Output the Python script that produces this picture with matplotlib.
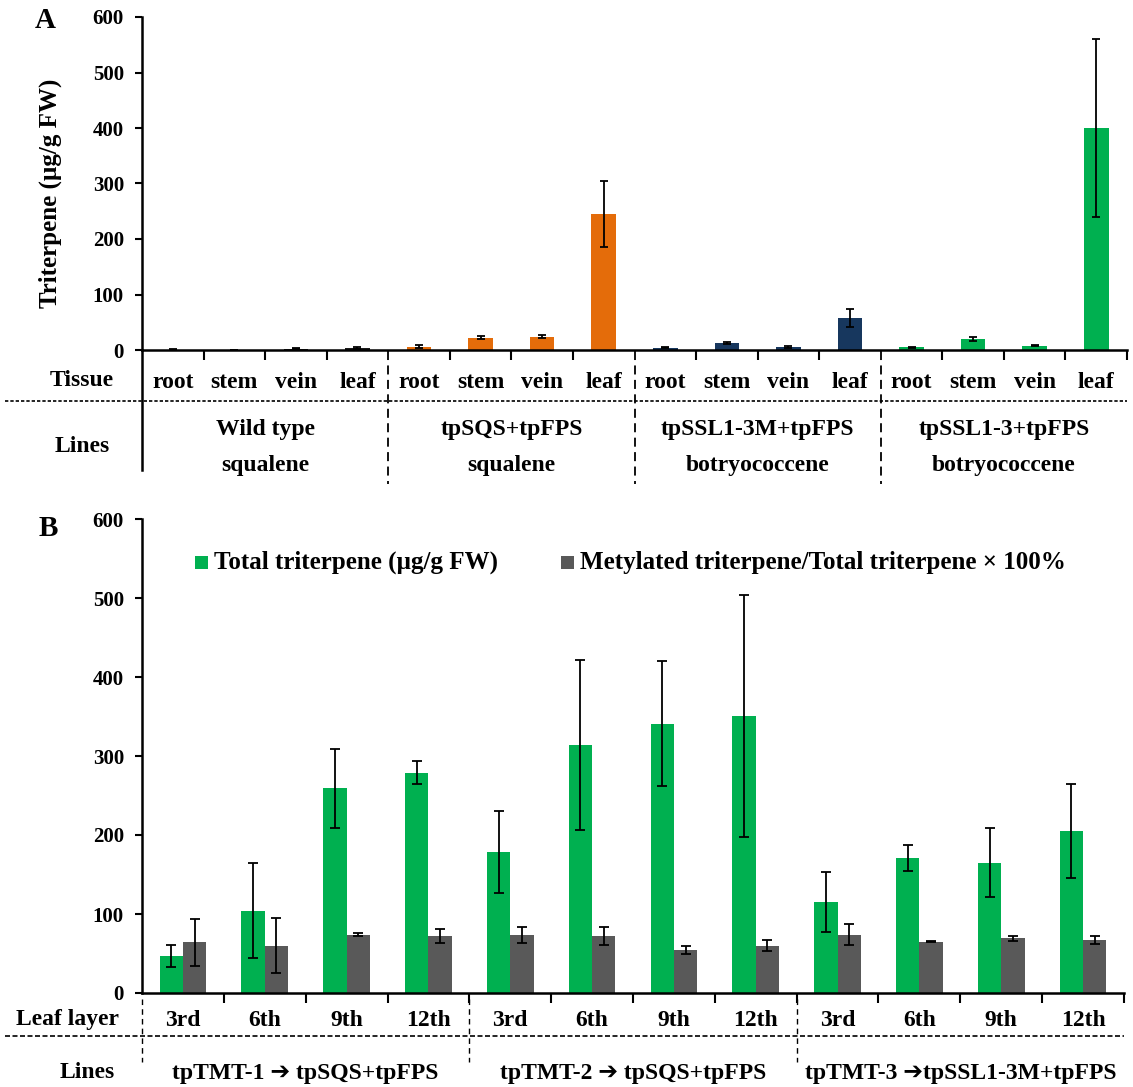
import numpy as np
import matplotlib
matplotlib.use('Agg')
import matplotlib.pyplot as plt
import matplotlib.transforms as mtransforms
from matplotlib.lines import Line2D
from matplotlib.patches import Rectangle

plt.rcParams['font.family'] = ['Liberation Serif', 'DejaVu Sans']
plt.rcParams['font.weight'] = 'bold'
plt.rcParams['axes.labelweight'] = 'bold'

# ---------------- Panel A data ----------------
tissues = ['root', 'stem', 'vein', 'leaf']
lines_a_top = ['Wild type', 'tpSQS+tpFPS', 'tpSSL1-3M+tpFPS', 'tpSSL1-3+tpFPS']
lines_a_bottom = ['squalene', 'squalene', 'botryococcene', 'botryococcene']
wt_vals = [0.8, 0.5, 2.0, 4.0]
wt_err = [0.5, 0.3, 1.0, 1.5]
sqs_vals = [6, 22, 24, 245]
sqs_err = [3, 3, 3, 60]
ssl3m_vals = [4, 12, 6, 58]
ssl3m_err = [1, 2, 2, 16]
ssl3_vals = [5, 20, 8, 400]
ssl3_err = [1, 3, 1.5, 160]
colors_a = ['#1a1a1a', '#E46C0A', '#17375E', '#00B050']

# ---------------- Panel B data ----------------
layers = ['3rd', '6th', '9th', '12th']
lines_b = ['tpTMT-1 \u2794 tpSQS+tpFPS', 'tpTMT-2 \u2794 tpSQS+tpFPS', 'tpTMT-3 \u2794tpSSL1-3M+tpFPS']
total_vals = [47, 104, 259, 279, 178, 314, 341, 351, 115, 171, 165, 205]
total_err = [14, 60, 50, 15, 52, 108, 79, 153, 38, 16, 44, 60]
metyl_vals = [64, 60, 74, 72, 73, 72, 55, 60, 74, 65, 69, 67]
metyl_err = [30, 35, 2, 9, 10, 11, 5, 7, 13, 1, 3, 5]
legend_labels = ['Total triterpene (\u00b5g/g FW)', 'Metylated triterpene/Total triterpene \u00d7 100%']
green = '#00B050'
gray = '#595959'

W, H = 1133, 1087
fig = plt.figure(figsize=(W / 100, H / 100), dpi=100)


def fx(px):
    return px / W


def fy(py):
    return 1 - py / H


TS = 17   # table text size
TK = 15   # tick label size

# ================= Panel A =================
axA = fig.add_axes([fx(142), fy(350), fx(1127) - fx(142), fy(17) - fy(350)])
valsA = np.concatenate([wt_vals, sqs_vals, ssl3m_vals, ssl3_vals])
errA = np.concatenate([wt_err, sqs_err, ssl3m_err, ssl3_err])
colA = [c for c in colors_a for _ in range(4)]
xA = np.arange(len(valsA))
axA.bar(xA, valsA, width=0.4, color=colA, yerr=errA, capsize=3,
        error_kw=dict(elinewidth=1.3, capthick=1.3, ecolor='black'))
axA.set_xlim(-0.5, 15.5)
axA.set_ylim(0, 600)
axA.set_yticks(np.arange(0, 601, 100))
axA.tick_params(axis='y', labelsize=TK, direction='out', length=5, width=1.5, pad=8)
bound_ticks = [b + 0.5 for b in range(16) if (b + 1) % 4 != 0] + [15.5]
axA.set_xticks(bound_ticks)
axA.set_xticklabels([])
axA.tick_params(axis='x', direction='out', length=7, width=1.5)
for s in ['top', 'right']:
    axA.spines[s].set_visible(False)
for s in ['left', 'bottom']:
    axA.spines[s].set_linewidth(1.8)
axA.set_ylabel('Triterpene (\u00b5g/g FW)', fontsize=18)
axA.yaxis.set_label_coords(-0.081, 0.47)

trA = mtransforms.blended_transform_factory(axA.transData, fig.transFigure)
for i in range(16):
    axA.text(i, fy(382), tissues[i % 4], transform=trA, ha='center', va='center', fontsize=TS)
for g in range(4):
    axA.text(g * 4 + 1.5, fy(430), lines_a_top[g], transform=trA, ha='center', va='center', fontsize=TS)
    axA.text(g * 4 + 1.5, fy(465), lines_a_bottom[g], transform=trA, ha='center', va='center', fontsize=TS)
for b in [3.5, 7.5, 11.5]:
    axA.plot([b, b], [fy(351), fy(484)], transform=trA, color='black', lw=1.3,
             ls=(0, (5, 3)), clip_on=False)
axA.plot([-0.5, -0.5], [fy(350), fy(470)], transform=trA, color='black', lw=1.8, clip_on=False)
fig.add_artist(Line2D([fx(5), fx(1127)], [fy(401), fy(401)], transform=fig.transFigure,
                      color='black', lw=1.2, ls=(0, (2, 1.2))))
fig.text(fx(82), fy(381), 'Tissue', ha='center', va='center', fontsize=TS)
fig.text(fx(82), fy(447), 'Lines', ha='center', va='center', fontsize=TS)
fig.text(fx(45), fy(20), 'A', ha='center', va='center', fontsize=21)

# ================= Panel B =================
axB = fig.add_axes([fx(142), fy(993), fx(1124) - fx(142), fy(519) - fy(993)])
xB = np.arange(len(total_vals))
bw = 0.285
ekw = dict(elinewidth=1.3, capthick=1.3, ecolor='black')
axB.bar(xB - bw / 2, total_vals, width=bw, color=green, yerr=total_err, capsize=3.5, error_kw=ekw)
axB.bar(xB + bw / 2, metyl_vals, width=bw, color=gray, yerr=metyl_err, capsize=3.5, error_kw=ekw)
axB.set_xlim(-0.5, 11.5)
axB.set_ylim(0, 600)
axB.set_yticks(np.arange(0, 601, 100))
axB.tick_params(axis='y', labelsize=TK, direction='out', length=5, width=1.5, pad=8)
axB.set_xticks(np.arange(0.5, 12, 1))
axB.set_xticklabels([])
axB.tick_params(axis='x', direction='out', length=7, width=1.5)
for s in ['top', 'right']:
    axB.spines[s].set_visible(False)
for s in ['left', 'bottom']:
    axB.spines[s].set_linewidth(1.8)

trB = mtransforms.blended_transform_factory(axB.transData, fig.transFigure)
for i in range(12):
    axB.text(i, fy(1021), layers[i % 4], transform=trB, ha='center', va='center', fontsize=TS)
for g in range(3):
    axB.text(g * 4 + 1.5, fy(1073), lines_b[g], transform=trB, ha='center', va='center', fontsize=TS)
for b in [-0.5, 3.5, 7.5]:
    axB.plot([b, b], [fy(999), fy(1062)], transform=trB, color='black', lw=1.0,
             ls=(0, (4, 3)), clip_on=False)
fig.add_artist(Line2D([fx(5), fx(1124)], [fy(1036), fy(1036)], transform=fig.transFigure,
                      color='black', lw=1.2, ls=(0, (3, 1.5))))
fig.text(fx(67), fy(1020), 'Leaf layer', ha='center', va='center', fontsize=TS)
fig.text(fx(87), fy(1073), 'Lines', ha='center', va='center', fontsize=TS)
fig.text(fx(48), fy(528), 'B', ha='center', va='center', fontsize=21)

# legend (manual)
for (sx, tx, c, lab) in [(195, 214, green, legend_labels[0]), (561, 580, gray, legend_labels[1])]:
    fig.add_artist(Rectangle((fx(sx), fy(569)), fx(13), 13 / H, transform=fig.transFigure,
                             facecolor=c, edgecolor='none'))
    fig.text(fx(tx), fy(562), lab, ha='left', va='center', fontsize=18)

fig.savefig('out.png', dpi=100)
